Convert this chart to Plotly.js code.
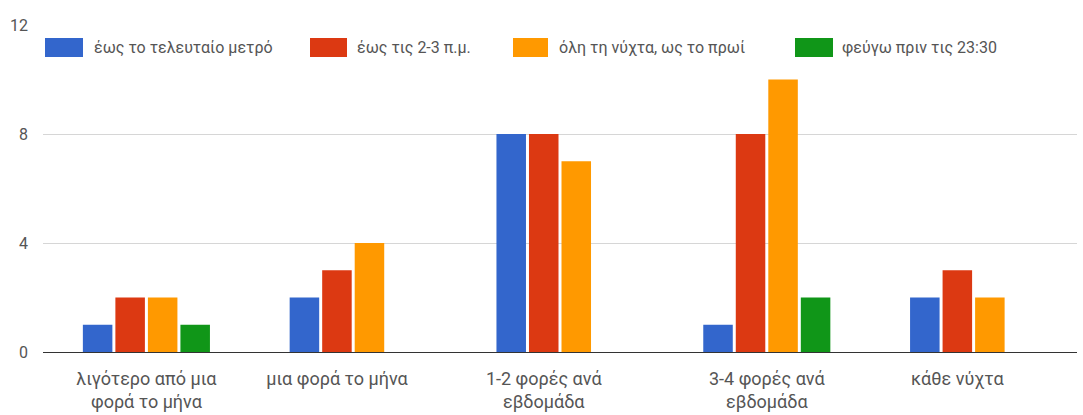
<!DOCTYPE html>
<html>
<head>
<meta charset="utf-8">
<script src="https://cdn.plot.ly/plotly-3.0.1.min.js"></script>
<style>
  html, body { margin: 0; padding: 0; background: #ffffff; }
  #chart { width: 1083px; height: 415px; }
</style>
</head>
<body>
<div id="chart"></div>
<script>
// Categories (x axis) and their tick labels
const categories = [
  'λιγότερο από μια φορά το μήνα',
  'μια φορά το μήνα',
  '1-2 φορές ανά εβδομάδα',
  '3-4 φορές ανά εβδομάδα',
  'κάθε νύχτα'
];
const tickLabels = [
  'λιγότερο από μια<br>φορά το μήνα',
  'μια φορά το μήνα',
  '1-2 φορές ανά<br>εβδομάδα',
  '3-4 φορές ανά<br>εβδομάδα',
  'κάθε νύχτα'
];

// Series names and values
const seriesNames = [
  'έως το τελευταίο μετρό',
  'έως τις 2-3 π.μ.',
  'όλη τη νύχτα, ως το πρωί',
  'φεύγω πριν τις 23:30'
];
const untilLastMetro = [1, 2, 8, 1, 2];
const until2to3am    = [2, 3, 8, 8, 3];
const allNight       = [2, 4, 7, 10, 2];
const leaveBefore2330 = [1, 0, 0, 2, 0];

const yTicks = [0, 4, 8, 12];

// Styling
const colors = ['#3366cc', '#dc3912', '#ff9900', '#109618'];
const FONT = 'Roboto, Arial, sans-serif';
const TEXT_COLOR = '#555555';
const BARGAP = 0.371;
const BARGROUPGAP = 0.092;

const seriesValues = [untilLastMetro, until2to3am, allNight, leaveBefore2330];
const xIdx = categories.map((_, i) => i);

const traces = seriesValues.map((vals, s) => ({
  type: 'bar',
  name: seriesNames[s],
  x: xIdx,
  y: vals,
  marker: { color: colors[s], line: { width: 0 } },
  hoverinfo: 'skip',
  showlegend: false
}));

// Each label sits under the bars that are actually drawn in its group
const nSeries = seriesValues.length;
const slot = (1 - BARGAP) / nSeries;
const tickVals = xIdx.map(i => {
  const shown = seriesValues.map((v, s) => v[i] !== 0 ? s : -1).filter(s => s >= 0);
  const a = Math.min(...shown), b = Math.max(...shown);
  return i + ((a + b) / 2 - (nSeries - 1) / 2) * slot;
});

// Legend row drawn as wide colour swatches with text
const L = 43, R = 6, T = 25, B = 63, W = 1083, H = 415;
const plotW = W - L - R, plotH = H - T - B;
const px2x = px => (px - L) / plotW;
const py2y = py => (H - B - py) / plotH;
const legendSwatchX = [[45, 83], [310, 347], [513, 548], [795, 833]];
const legendTextX = [92, 355, 557, 840];
const legendTop = 38, legendBottom = 57;

const shapes = legendSwatchX.map((xs, s) => ({
  type: 'rect', xref: 'paper', yref: 'paper',
  x0: px2x(xs[0]), x1: px2x(xs[1]),
  y0: py2y(legendBottom), y1: py2y(legendTop),
  fillcolor: colors[s], line: { width: 0 }, layer: 'above'
}));
const annotations = seriesNames.map((name, s) => ({
  xref: 'paper', yref: 'paper',
  x: px2x(legendTextX[s]), y: py2y((legendTop + legendBottom) / 2),
  xanchor: 'left', yanchor: 'middle',
  text: name, showarrow: false,
  font: { family: FONT, size: 16, color: TEXT_COLOR }
}));

const layout = {
  width: W, height: H,
  margin: { l: L, r: R, t: T, b: B, pad: 0 },
  paper_bgcolor: '#ffffff',
  plot_bgcolor: '#ffffff',
  barmode: 'group',
  bargap: BARGAP,
  bargroupgap: BARGROUPGAP,
  showlegend: false,
  xaxis: {
    type: 'linear',
    range: [-0.5, categories.length - 0.5],
    tickmode: 'array',
    tickvals: tickVals,
    ticktext: tickLabels,
    ticks: '',
    showgrid: false,
    zeroline: false,
    showline: false,
    ticklabelstandoff: 14,
    tickfont: { family: FONT, size: 18, color: TEXT_COLOR },
    fixedrange: true
  },
  yaxis: {
    range: [0, 12],
    tickmode: 'array',
    tickvals: yTicks,
    ticktext: yTicks.map(String),
    ticks: '',
    showgrid: true,
    gridcolor: '#d6d6d6',
    gridwidth: 1,
    zeroline: true,
    zerolinecolor: '#333333',
    zerolinewidth: 1,
    showline: false,
    ticklabelstandoff: 14,
    tickfont: { family: FONT, size: 16, color: TEXT_COLOR },
    fixedrange: true
  },
  shapes: shapes,
  annotations: annotations
};

Plotly.newPlot('chart', traces, layout, { staticPlot: true, displayModeBar: false });
</script>
</body>
</html>
